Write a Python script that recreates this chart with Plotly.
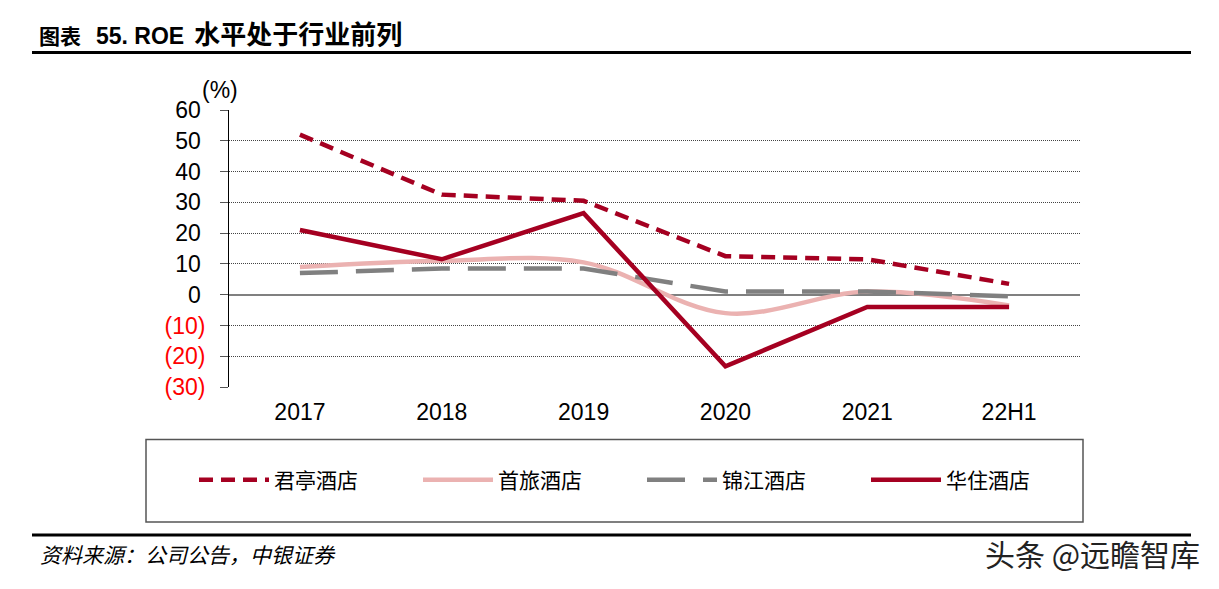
import plotly.graph_objects as go

W, H = 1219, 589
L, R, T, B = 229, 1080, 110, 387  # plot area in px

categories = ["2017", "2018", "2019", "2020", "2021", "22H1"]
junting = [52, 32.5, 30.5, 12.5, 11.5, 3.5]      # 君亭酒店
shoulv = [9, 11, 10.5, -6, 1, -3.5]              # 首旅酒店
jinjiang = [7, 8.5, 8.5, 1, 1, -0.5]             # 锦江酒店
huazhu = [21, 11.5, 26.5, -23.3, -4, -4]         # 华住酒店
yticks = [-30, -20, -10, 0, 10, 20, 30, 40, 50, 60]


def px_x(x):
    return (x - L) / (R - L)


def px_y(y):
    return (B - y) / (B - T)


def ylab(v):
    if v < 0:
        return '<span style="color:#FF0000">(%d)</span>' % (-v)
    return "%d\u2009" % v


DARK_RED = "#A50021"
PINK = "#EBB2B1"
GRAY = "#808080"

fig = go.Figure()
fig.add_trace(go.Scatter(x=categories, y=junting, name="君亭酒店", mode="lines",
                         line=dict(color=DARK_RED, width=4.5, dash="14px,8px")))
fig.add_trace(go.Scatter(x=categories, y=shoulv, name="首旅酒店", mode="lines",
                         line=dict(color=PINK, width=4.5, shape="spline", smoothing=1.0)))
fig.add_trace(go.Scatter(x=categories, y=jinjiang, name="锦江酒店", mode="lines",
                         line=dict(color=GRAY, width=4.5, dash="38px,18px")))
fig.add_trace(go.Scatter(x=categories, y=huazhu, name="华住酒店", mode="lines",
                         line=dict(color=DARK_RED, width=4.5)))

num_font = "Liberation Sans, Arial, sans-serif"
cjk_font = "Noto Sans CJK SC, sans-serif"

fig.update_layout(
    width=W, height=H,
    margin=dict(l=L, r=W - R, t=T, b=H - B),
    paper_bgcolor="white", plot_bgcolor="white",
    font=dict(family=num_font, color="black"),
    showlegend=True,
    legend=dict(
        orientation="h", x=px_x(194), xanchor="left", y=px_y(480), yanchor="middle",
        font=dict(family=cjk_font, size=21, color="black"),
        itemwidth=70,
        entrywidth=139, entrywidthmode="pixels",
        bgcolor="rgba(0,0,0,0)", borderwidth=0, itemclick=False,
    ),
    xaxis=dict(
        type="category", categoryorder="array", categoryarray=categories,
        range=[-0.5, 5.5], showline=False, ticks="", showgrid=False, zeroline=False,
        tickfont=dict(family=num_font, size=23, color="black"),
        ticklabelstandoff=9,
    ),
    xaxis2=dict(
        overlaying="x", anchor="free", position=1 / 3,
        range=[-0.5, 5.5], tickvals=[-0.5, 0.5, 1.5, 2.5, 3.5, 4.5, 5.5],
        ticks="outside", ticklen=7, tickwidth=1, tickcolor="#333",
        showticklabels=False, showgrid=False, zeroline=False, showline=False,
    ),
    yaxis=dict(
        range=[-30, 60], tickvals=yticks, ticktext=[ylab(v) for v in yticks],
        showline=True, linecolor="black", linewidth=1,
        ticks="outside", ticklen=8, tickcolor="#555", tickwidth=1,
        showgrid=True, gridcolor="#444", gridwidth=1, griddash="1px,1px",
        zeroline=True, zerolinecolor=GRAY, zerolinewidth=2,
        tickfont=dict(family=num_font, size=23, color="black"),
        ticklabelstandoff=10,
    ),
    shapes=[
        dict(type="line", xref="paper", yref="paper", x0=px_x(32), x1=px_x(1191),
             y0=px_y(52.5), y1=px_y(52.5), line=dict(color="black", width=3)),
        dict(type="line", xref="paper", yref="paper", x0=px_x(32), x1=px_x(1191),
             y0=px_y(535), y1=px_y(535), line=dict(color="black", width=3)),
        dict(type="rect", xref="paper", yref="paper", x0=px_x(146), x1=px_x(1083),
             y0=px_y(522), y1=px_y(439.5), line=dict(color="#555", width=1.5)),
    ],
    annotations=[
        dict(xref="paper", yref="paper", x=px_x(37), y=px_y(32), xanchor="left", yanchor="middle",
             showarrow=False,
             text=('<b><span style="font-size:21px">图表</span>\u00a0\u00a0\u00a0'
                   '<span style="font-family:Liberation Sans, Arial;font-size:23px">55. ROE</span>\u00a0\u00a0'
                   '<span style="font-size:26px">水平处于行业前列</span></b>'),
             font=dict(family=cjk_font, size=22, color="black")),
        dict(xref="paper", yref="paper", x=px_x(220), y=px_y(90), xanchor="center", yanchor="middle",
             showarrow=False, text="(%)", font=dict(family=num_font, size=23, color="black")),
        dict(xref="paper", yref="paper", x=px_x(38), y=px_y(554), xanchor="left", yanchor="middle",
             showarrow=False, text="<i>资料来源：公司公告，中银证券</i>",
             font=dict(family=cjk_font, size=21, color="black")),
        dict(xref="paper", yref="paper", x=px_x(1202), y=px_y(553), xanchor="right", yanchor="middle",
             showarrow=False, text="头条 @远瞻智库",
             font=dict(family=cjk_font, size=30, color="#222")),
    ],
)

fig.write_html("out.html")
